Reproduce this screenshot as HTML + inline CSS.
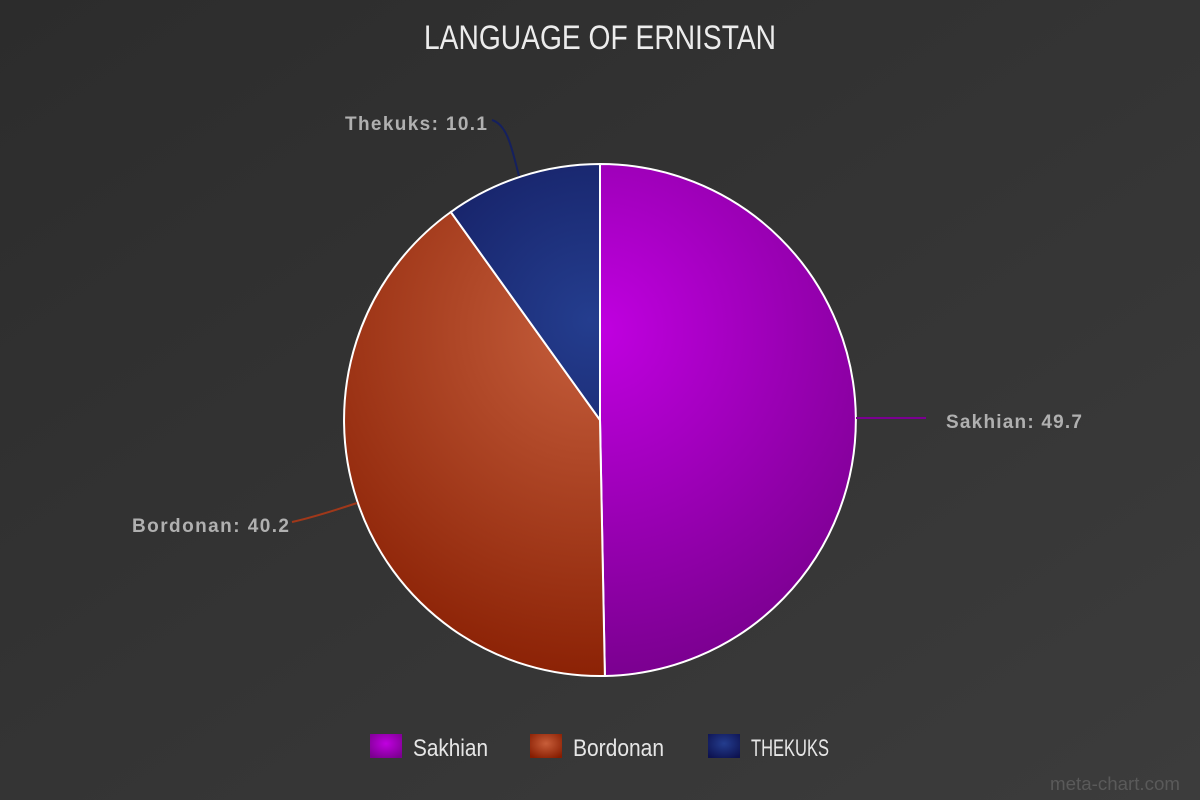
<!DOCTYPE html>
<html><head><meta charset="utf-8"><style>html,body{margin:0;padding:0;background:#333}svg{display:block}</style></head>
<body>
<svg width="1200" height="800" viewBox="0 0 1200 800" xmlns="http://www.w3.org/2000/svg">
<defs>
<linearGradient id="bg" x1="0" y1="0" x2="1" y2="1">
<stop offset="0" stop-color="#2c2c2c"/><stop offset="1" stop-color="#3c3c3c"/>
</linearGradient>
<radialGradient id="gs" cx="600" cy="330" r="380" gradientUnits="userSpaceOnUse">
<stop offset="0" stop-color="#c000e0"/><stop offset="1" stop-color="#740088"/>
</radialGradient>
<radialGradient id="gb" cx="590" cy="330" r="380" gradientUnits="userSpaceOnUse">
<stop offset="0" stop-color="#c55e3c"/><stop offset="1" stop-color="#861c00"/>
</radialGradient>
<radialGradient id="gt" cx="590" cy="320" r="250" gradientUnits="userSpaceOnUse">
<stop offset="0" stop-color="#243d8e"/><stop offset="1" stop-color="#131b5e"/>
</radialGradient>
<radialGradient id="ls" cx="0.5" cy="0.4" r="0.7"><stop offset="0" stop-color="#c000e0"/><stop offset="1" stop-color="#7a008e"/></radialGradient>
<radialGradient id="lb" cx="0.5" cy="0.4" r="0.7"><stop offset="0" stop-color="#c85e3a"/><stop offset="1" stop-color="#861c00"/></radialGradient>
<radialGradient id="lt" cx="0.5" cy="0.4" r="0.7"><stop offset="0" stop-color="#243d8e"/><stop offset="1" stop-color="#0d1250"/></radialGradient>
</defs>
<rect width="1200" height="800" fill="url(#bg)"/>
<text x="600" y="49" text-anchor="middle" font-family="Liberation Sans, sans-serif" font-size="34" fill="#ececec" textLength="352" lengthAdjust="spacingAndGlyphs">LANGUAGE OF ERNISTAN</text>

<path d="M600,420 L600,164 A256,256 0 0 1 604.9,675.95 Z" fill="url(#gs)" stroke="#fff" stroke-width="2"/>
<path d="M600,420 L604.9,675.95 A256,256 0 0 1 450.8,212 Z" fill="url(#gb)" stroke="#fff" stroke-width="2"/>
<path d="M600,420 L450.8,212 A256,256 0 0 1 600,164 Z" fill="url(#gt)" stroke="#fff" stroke-width="2"/>

<path d="M856,418 L926,418" stroke="#7a0090" stroke-width="2" fill="none"/>
<path d="M357,503 C330,512 310,518 292,522" stroke="#a0381a" stroke-width="2" fill="none"/>
<path d="M519,176 C512,150 508,125 492,120" stroke="#15205e" stroke-width="2" fill="none"/>

<g font-family="Liberation Sans, sans-serif" font-weight="bold" font-size="19" fill="#b0b0b0">
<text x="946" y="428" textLength="136" lengthAdjust="spacing">Sakhian: 49.7</text>
<text x="132" y="532" textLength="157" lengthAdjust="spacing">Bordonan: 40.2</text>
<text x="345" y="130" textLength="142" lengthAdjust="spacing">Thekuks: 10.1</text>
</g>

<rect x="370" y="734" width="32" height="24" fill="url(#ls)"/>
<rect x="530" y="734" width="32" height="24" fill="url(#lb)"/>
<rect x="708" y="734" width="32" height="24" fill="url(#lt)"/>
<g font-family="Liberation Sans, sans-serif" font-size="24" fill="#e6e6e6">
<text x="413" y="756" textLength="75" lengthAdjust="spacingAndGlyphs">Sakhian</text>
<text x="573" y="756" textLength="91" lengthAdjust="spacingAndGlyphs">Bordonan</text>
<text x="751" y="756" textLength="78" lengthAdjust="spacingAndGlyphs">THEKUKS</text>
</g>
<text x="1180" y="790" text-anchor="end" font-family="Liberation Sans, sans-serif" font-size="18" fill="#5a5a5a" textLength="130" lengthAdjust="spacingAndGlyphs">meta-chart.com</text>
</svg>
</body></html>
